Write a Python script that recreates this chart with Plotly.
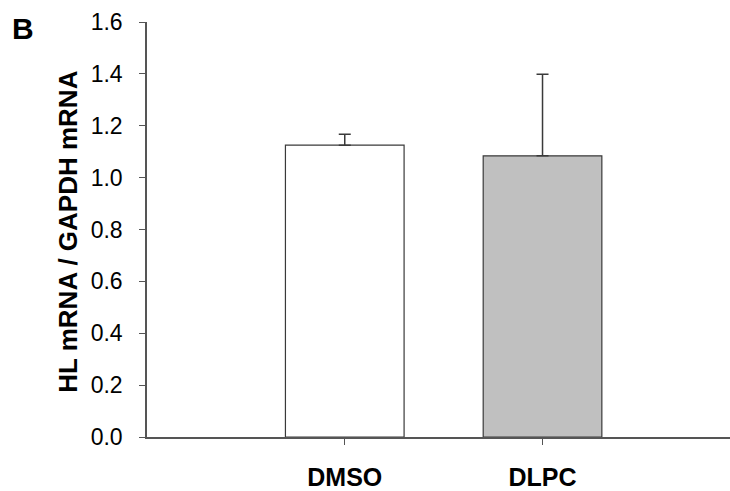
import plotly.graph_objects as go

# Relative HL mRNA expression (normalised to GAPDH)
groups = ["DMSO", "DLPC"]
means = [1.125, 1.084]
err_up = [0.042, 0.315]
err_down = [0.0, 0.0]
fills = ["#ffffff", "#c0c0c0"]
y_ticks = [0.0, 0.2, 0.4, 0.6, 0.8, 1.0, 1.2, 1.4, 1.6]

axis_col = "#555555"
edge_col = "#3a3a3a"

fig = go.Figure()
fig.add_trace(go.Bar(
    x=list(range(len(groups))),
    y=means,
    width=0.6,
    marker=dict(color=fills, line=dict(color=edge_col, width=1.2)),
    error_y=dict(type="data", symmetric=False, array=err_up, arrayminus=err_down,
                 color=edge_col, thickness=1.5, width=6),
    showlegend=False,
))

fig.update_layout(
    width=730, height=491,
    margin=dict(l=147, r=0, t=22, b=54),
    paper_bgcolor="white", plot_bgcolor="white",
    font=dict(family="Liberation Sans, Arial, sans-serif", color="black"),
    xaxis=dict(
        range=[-1, 1.948],
        tickmode="array", tickvals=list(range(len(groups))), ticktext=groups,
        tickfont=dict(size=25, family="Liberation Sans, Arial, sans-serif", weight="bold"),
        ticks="outside", ticklen=6, tickcolor=axis_col, tickwidth=1,
        showline=True, linecolor=axis_col, linewidth=1.5,
        showgrid=False, zeroline=False, ticklabelstandoff=11,
    ),
    yaxis=dict(
        range=[0, 1.6],
        tickmode="array", tickvals=y_ticks, ticktext=[f"{v:.1f}" for v in y_ticks],
        tickfont=dict(size=23),
        ticks="outside", ticklen=6, tickcolor=axis_col, tickwidth=1,
        showline=True, linecolor=axis_col, linewidth=1.5,
        showgrid=False, zeroline=False, ticklabelstandoff=12,
    ),
    annotations=[
        dict(text="<b>HL mRNA / GAPDH mRNA</b>", xref="paper", yref="paper",
             x=-0.137, y=0.495, xanchor="center", yanchor="middle",
             textangle=-90, showarrow=False, font=dict(size=26)),
        dict(text="<b>B</b>", xref="paper", yref="paper",
             x=-0.235, y=0.985, xanchor="left", yanchor="middle",
             showarrow=False, font=dict(size=30)),
    ],
)

fig.write_html("out.html")
